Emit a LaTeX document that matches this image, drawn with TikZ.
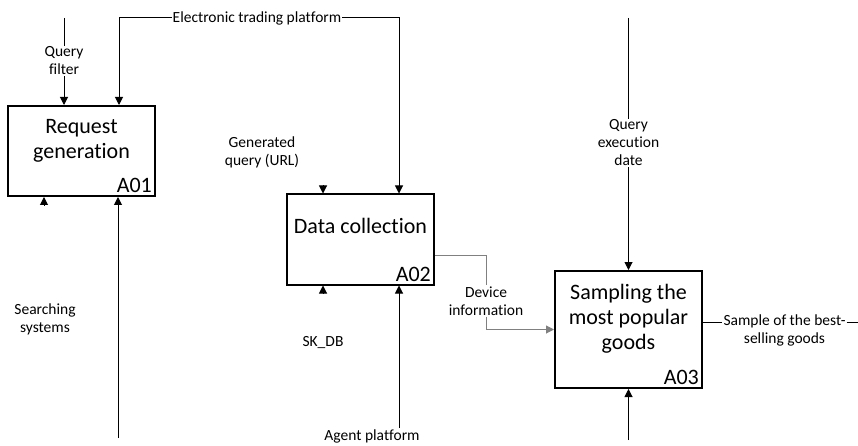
\documentclass[tikz,border=0pt]{standalone}
\usepackage{fontspec}
\setmainfont{Carlito}[Ligatures={NoCommon}]
\usetikzlibrary{positioning,arrows.meta,calc}

\tikzset{
  func/.style={draw, line width=2pt, minimum width=147pt, minimum height=90pt, inner sep=0pt},
  ttl/.style={font=\fontsize{22}{25}\selectfont, align=center, inner sep=0pt},
  num/.style={font=\fontsize{22}{25}\selectfont, anchor=south east, inner sep=4pt},
  lbl/.style={font=\fontsize{15.5}{18}\selectfont, align=center, inner sep=1pt},
  flow/.style={line width=1pt, -{Triangle[length=8pt,width=8pt]}},
  link/.style={line width=1pt},
}

\begin{document}
\begin{tikzpicture}[x=1pt,y=-1pt]
    \useasboundingbox (0,0) rectangle (858,446);
    % function boxes
    \node[func] (a1) at (81.5,151) {};
    \node[func] (a2) at (360.5,239.5) {};
    \node[func, minimum height=117pt] (a3) at (628.5,329.5) {};
    \node[ttl, below=14pt of a1.north] (t1) {Request\\generation};
    \node[ttl, below=25pt of a2.north] (t2) {Data collection};
    \node[ttl, below=14pt of a3.north] (t3) {Sampling the\\most popular\\goods};
    \node[num] (n1) at (a1.south east) {A01};
    \node[num] (n2) at (a2.south east) {A02};
    \node[num] (n3) at (a3.south east) {A03};
    % labels
    \node[lbl] (qf) at (64,61) {Query\\filter};
    \node[lbl] (etp) at (257,18) {Electronic trading platform};
    \node[lbl] (gq) at (262,152) {Generated\\query (URL)};
    \node[lbl] (ss) at (45,319) {Searching\\systems};
    \node[lbl] (sk) at (323,343) {SK\_DB};
    \node[lbl] (ap) at (372,436) {Agent platform};
    \node[lbl] (di) at (486,301) {Device\\information};
    \node[lbl] (qd) at (628.5,143) {Query\\execution\\date};
    \node[lbl] (out) at (784.5,330) {Sample of the best-\\selling goods};
    % free ends
    \coordinate (qf0) at (64,18);
    \coordinate (qd0) at (628.5,18);
    \coordinate (m1) at (118,438);
    \coordinate (m3) at (628.5,440);
    \coordinate (c1) at ($(a1.north east)+(-37,0)$);
    \coordinate (c2) at ($(a2.north east)+(-36,0)$);
    \coordinate (c3) at ($(a2.south east)+(-36,0)$);
    \coordinate (s1) at ($(a1.south west)+(37,8)$);
    \coordinate (s2) at ($(a2.north west)+(37,-8)$);
    \coordinate (s3) at ($(a2.south west)+(37,8)$);
    \coordinate (o1) at ($(a3.east)+(0,-7.5)$);
    \coordinate (o2) at (858,322);
    \coordinate (d1) at ($(a2.east)+(0,15.5)$);
    % arrows
    \draw[link] (qf0) -- (qf.north);
    \draw[flow] (qf.south) -- (qf.south |- a1.north);
    \draw[flow] (etp.west) -| (c1);
    \draw[flow] (etp.east) -| (c2);
    \draw[flow] (s1) -- (s1 |- a1.south);
    \draw[flow] (m1) -- (m1 |- a1.south);
    \draw[flow] (s2) -- (s2 |- a2.north);
    \draw[flow] (s3) -- (s3 |- a2.south);
    \draw[flow] (ap.north -| c3) -- (c3);
    \draw[link, gray] (d1) -| (di.north);
    \draw[flow, gray] (di.south) |- (a3.west);
    \draw[link] (qd0) -- (qd.north);
    \draw[flow] (qd.south) -- (a3.north);
    \draw[flow] (m3) -- (a3.south);
    \draw[link] (o1) -- (o1 -| out.west);
    \draw[link] (o2 -| out.east) -- (o2);
\end{tikzpicture}
\end{document}
